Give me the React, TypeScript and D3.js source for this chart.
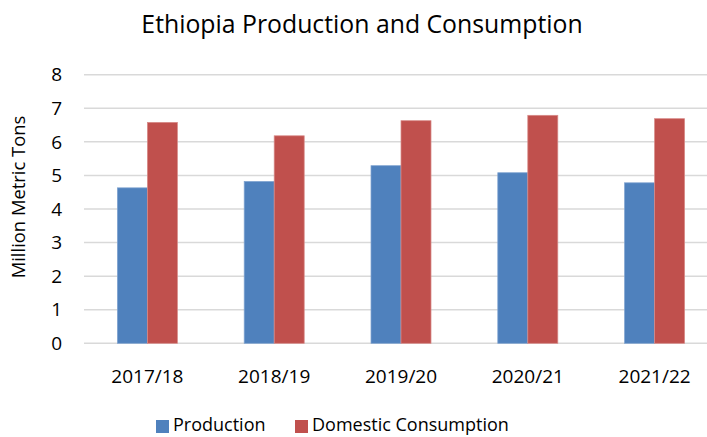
import React from "react";
import * as d3 from "d3";

const categories = ["2017/18", "2018/19", "2019/20", "2020/21", "2021/22"];
const production = [4.63, 4.82, 5.29, 5.08, 4.78];
const consumption = [6.58, 6.18, 6.63, 6.79, 6.69];
const seriesNames = ["Production", "Domestic Consumption"];
const seriesColors = ["#4F81BD", "#C0504D"];
const strokeColors = ["#7FA3D0", "#D88A88"];
const yTicks = [0, 1, 2, 3, 4, 5, 6, 7, 8];

const W = 707;
const H = 437;
const FONT = "'Open Sans', sans-serif";

export default function App() {
  const x = d3.scaleBand().domain(categories).range([84, 718]).paddingInner(0).paddingOuter(0);
  const y = d3.scaleLinear().domain([0, 8]).range([343.3, 74.7]);
  const barW = 30;
  const series = [production, consumption];

  return (
    <svg width={W} height={H} style={{ position: "absolute", left: 0, top: 0, background: "#fff" }}>
      <text x={362} y={33} textAnchor="middle" fontFamily={FONT} fontSize={24.8} fill="#000">
        Ethiopia Production and Consumption
      </text>
      {yTicks.map((t) => (
        <g key={t}>
          <line x1={84} x2={707} y1={y(t)} y2={y(t)} stroke="#D9D9D9" strokeWidth={1.5} />
          <text x={62} y={y(t)} dy="0.35em" textAnchor="end" fontFamily={FONT} fontSize={19} fill="#000">
            {t}
          </text>
        </g>
      ))}
      <text
        transform={`translate(25,197) rotate(-90)`}
        textAnchor="middle"
        fontFamily={FONT}
        fontSize={18.4}
        fill="#000"
      >
        Million Metric Tons
      </text>
      {categories.map((c, i) => {
        const cx = x(c)! + x.bandwidth() / 2;
        return (
          <g key={c}>
            {series.map((s, k) => (
              <rect
                key={k}
                x={cx - barW + k * barW}
                y={y(s[i])}
                width={barW}
                height={y(0) - y(s[i])}
                fill={seriesColors[k]}
                stroke={strokeColors[k]}
                strokeWidth={0.75}
              />
            ))}
            <text x={cx} y={383} textAnchor="middle" fontFamily={FONT} fontSize={19} fill="#000">
              {c}
            </text>
          </g>
        );
      })}
      {[
        { x: 156, tx: 173 },
        { x: 295, tx: 312 },
      ].map((p, k) => (
        <g key={k}>
          <rect x={p.x} y={420} width={13} height={13} fill={seriesColors[k]} />
          <text x={p.tx} y={431} fontFamily={FONT} fontSize={18} fill="#000">
            {seriesNames[k]}
          </text>
        </g>
      ))}
    </svg>
  );
}
